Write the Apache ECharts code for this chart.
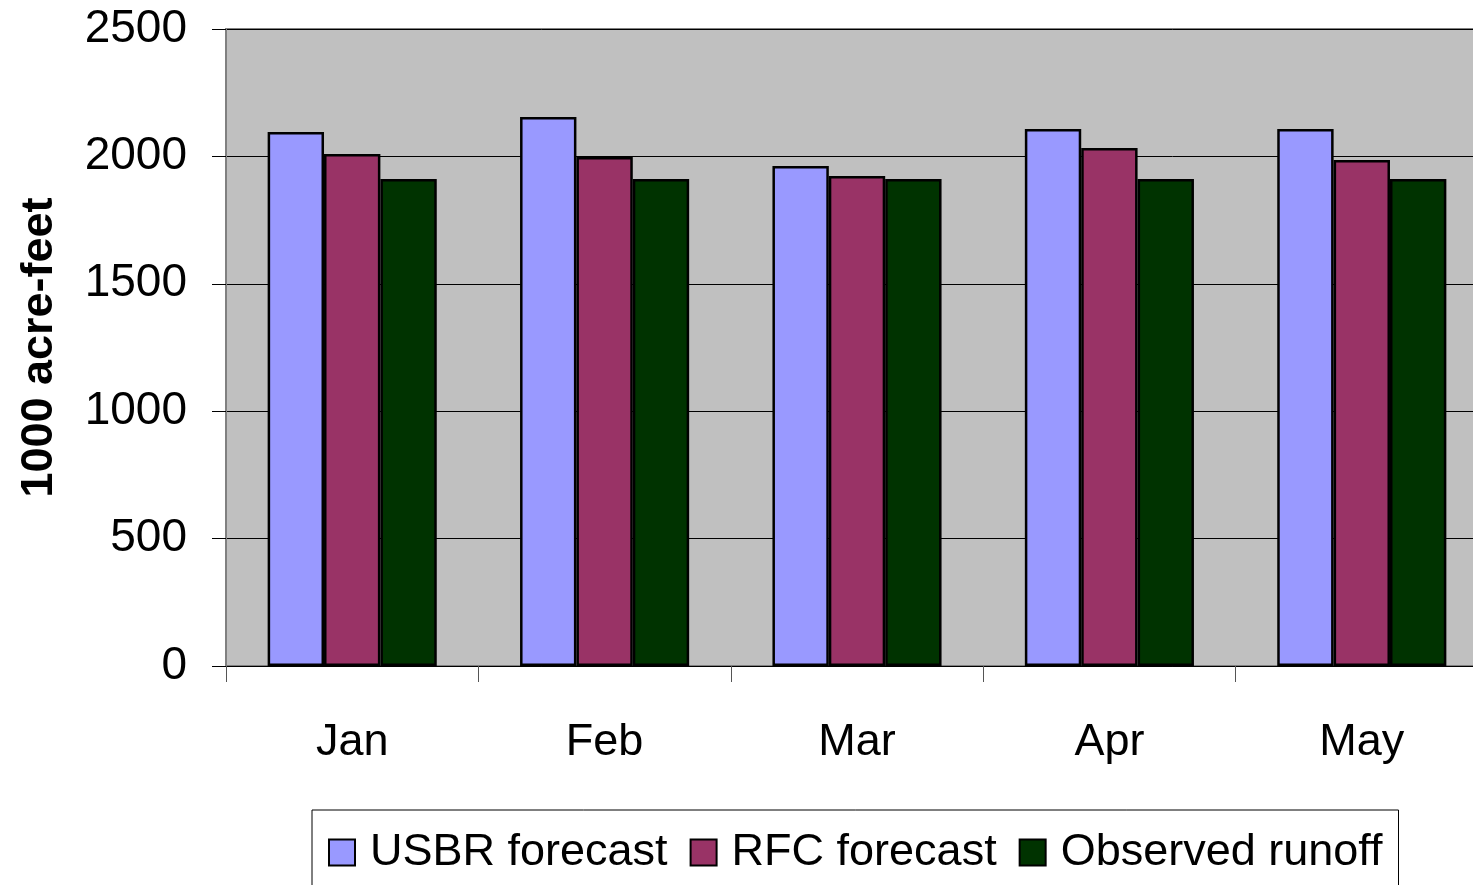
<!DOCTYPE html>
<html><head><meta charset="utf-8">
<script src="https://cdn.jsdelivr.net/npm/echarts@6/dist/echarts.min.js"></script>
<style>html,body{margin:0;padding:0;background:#fff;overflow:hidden}#c{width:1500px;height:885px}</style>
</head><body><div id="c"></div>
<script>
var categories = ['Jan','Feb','Mar','Apr','May'];
var usbr = [2096, 2155, 1962, 2108, 2108];
var rfc = [2009, 1998, 1923, 2033, 1986];
var observed = [1911, 1911, 1911, 1911, 1911];
var seriesNames = ['USBR forecast','RFC forecast','Observed runoff'];
var colors = ['#9999ff','#993366','#003300'];

var font = 'Liberation Sans, Arial, sans-serif';
var chart = echarts.init(document.getElementById('c'));
function bar(name, data, color){
  return {name:name, type:'bar', data:data, barGap:'0%', barCategoryGap:'33%',
    itemStyle:{color:color, borderColor:'#000', borderWidth:2.5}};
}
chart.setOption({
  animation:false,
  color:colors,
  grid:{left:226, top:29, width:1262, height:637, show:true, backgroundColor:'#c0c0c0', borderColor:'#808080', borderWidth:2, containLabel:false},
  legend:{left:312, top:810, orient:'horizontal', padding:[20,16,30,16], itemGap:22, itemWidth:26, itemHeight:26,
    borderColor:'#000', borderWidth:1, backgroundColor:'#fff', icon:'rect',
    textStyle:{fontFamily:font, fontSize:45, color:'#000', padding:[0,0,0,10]},
    data:seriesNames},
  xAxis:{type:'category', data:categories,
    axisLine:{lineStyle:{color:'#000', width:1}},
    axisTick:{show:true, length:16, lineStyle:{color:'#555'}},
    axisLabel:{fontFamily:font, fontSize:45, color:'#000', margin:54}},
  yAxis:{type:'value', min:0, max:2500, interval:500,
    name:'1000 acre-feet', nameLocation:'middle', nameGap:164, nameRotate:90,
    nameTextStyle:{fontFamily:font, fontSize:45, fontWeight:'bold', color:'#000'},
    axisLine:{show:true, lineStyle:{color:'#808080', width:2}},
    axisTick:{show:true, length:14, lineStyle:{color:'#000'}},
    axisLabel:{fontFamily:font, fontSize:46, color:'#000', margin:39, formatter:function(v){return String(v);}},
    splitLine:{show:true, lineStyle:{color:'#000', width:1}}},
  series:[bar(seriesNames[0], usbr, colors[0]), bar(seriesNames[1], rfc, colors[1]), bar(seriesNames[2], observed, colors[2])]
});
</script></body></html>
